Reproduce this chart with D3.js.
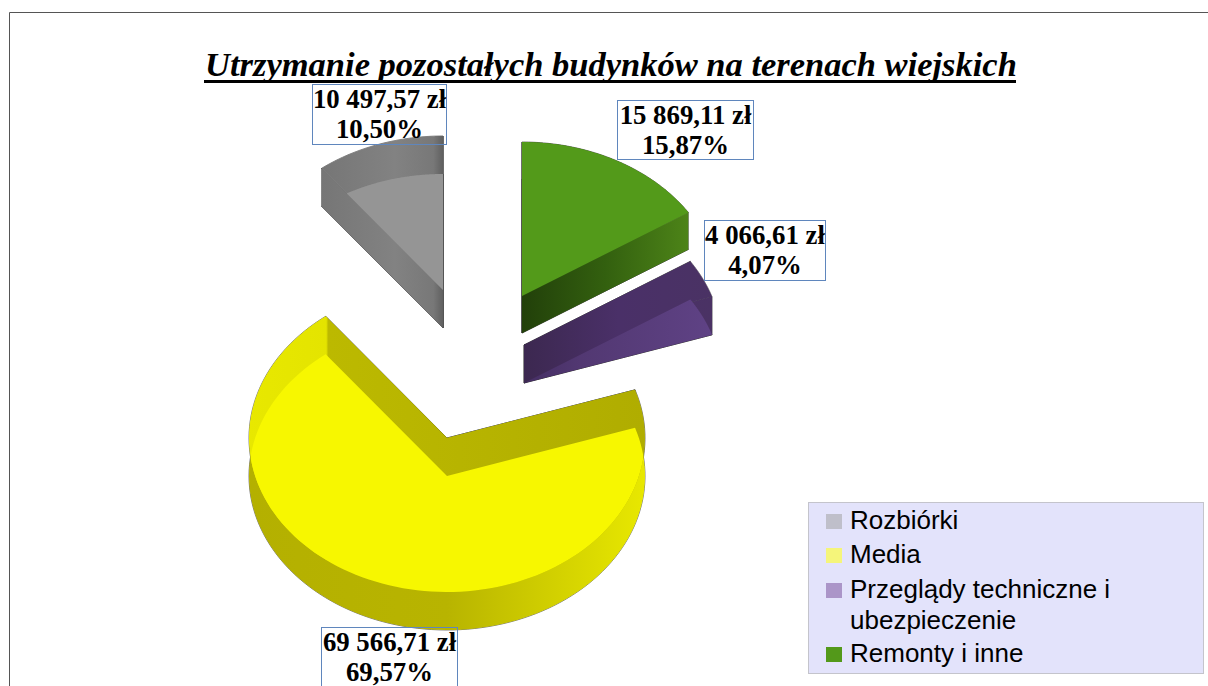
<!DOCTYPE html>
<html>
<head>
<meta charset="utf-8">
<script src="https://cdn.jsdelivr.net/npm/d3@7"></script>
<style>
  html, body { margin: 0; padding: 0; background: #fff; overflow: hidden; }
  svg { display: block; }
  .title { font-family: "Liberation Serif", serif; font-weight: bold; font-style: italic; font-size: 34.5px; }
  .lab { font-family: "Liberation Serif", serif; font-weight: bold; font-size: 26.8px; text-anchor: middle; }
  .leg { font-family: "Liberation Sans", sans-serif; font-size: 26px; fill: #000; }
</style>
</head>
<body>
<div id="chart"></div>
<script>
// data, in legend order
var categories = ['Rozbiórki', 'Media', 'Przeglądy techniczne i ubezpieczenie', 'Remonty i inne'];
var amounts = [10497.57, 69566.71, 4066.61, 15869.11];
var amountLabels = ['10 497,57 zł', '69 566,71 zł', '4 066,61 zł', '15 869,11 zł'];
var percentLabels = ['10,50%', '69,57%', '4,07%', '15,87%'];

var width = 1208, height = 686;
var rx = 198, ry = 154;

// exploded apex of each slice: upper and lower face of the extrusion
var apexX = [443, 447, 524, 522];
var apexTop = [290, 438, 345, 296];
var apexBottom = [328, 476, 383, 333];
// which face is drawn bright: both = overlap of the two faces
var faceMode = ['both', 'both', 'bottom', 'top'];

// gradients run left to right across the slice, from gradStart to gradEnd
var gradStart = [322, 249, 524, 522];
var gradEnd = [443, 645, 712, 689];
var brightStops = [
  [[0, '#959595'], [1, '#959595']],
  [[0, '#f7f700'], [1, '#f7f700']],
  [[0, '#452e63'], [0.3, '#523872'], [1, '#5f4285']],
  [[0, '#539a1a'], [1, '#539a1a']]
];
var lowerStops = [
  [[0, '#707070'], [1, '#808080']],
  [[0, '#b4b000'], [0.5, '#b8b400'], [1, '#e8e800']],
  [[0, '#3a2650'], [1, '#4b3266']],
  [[0, '#22400a'], [0.5, '#33600f'], [1, '#4d8418']]
];
var upperStops = [
  [[0, '#767676'], [0.6, '#828282'], [0.92, '#787878'], [1, '#606060']],
  [[0, '#e8e800'], [0.195, '#e4e400'], [0.2, '#bcb900'], [1, '#b0ad00']],
  [[0, '#3c2850'], [0.5, '#4a3068'], [1, '#4a3264']],
  [[0, '#22400a'], [0.5, '#33600f'], [1, '#4d8418']]
];
var legendColors = ['#bfbfca', '#f5f57a', '#ab95c8', '#53991a'];
var labelBox = [
  {x: 312, y: 84, w: 134, h: 60},
  {x: 321, y: 627, w: 136, h: 62},
  {x: 704, y: 220, w: 121, h: 60},
  {x: 617, y: 100, w: 136, h: 59}
];

var svg = d3.select('#chart').append('svg').attr('width', width).attr('height', height);
var defs = svg.append('defs');

function makeGrad(id, i, stops) {
  var grad = defs.append('linearGradient').attr('id', id)
    .attr('gradientUnits', 'userSpaceOnUse')
    .attr('x1', gradStart[i]).attr('x2', gradEnd[i]).attr('y1', 0).attr('y2', 0);
  stops.forEach(function(s) {
    grad.append('stop').attr('offset', s[0]).attr('stop-color', s[1]);
  });
  return 'url(#' + id + ')';
}

// frame, runs off the right and bottom edges
svg.append('path')
  .attr('d', 'M9.5,' + height + 'V12.5H' + width)
  .attr('fill', 'none').attr('stroke', '#555').attr('stroke-width', 1);

// slices clockwise from 12 o'clock, reversed legend order
var pie = d3.pie().sort(null).value(function(d) { return d.v; });
var rows = categories.map(function(c, i) { return {i: i, v: amounts[i]}; }).reverse();
var arcs = pie(rows);

function rim(ang, x, y) {
  return [x + rx * Math.sin(ang), y - ry * Math.cos(ang)];
}
// elliptical sector for a pie slice
function sectorPath(a, x, y) {
  var p = [[x, y]];
  var n = 120;
  for (var k = 0; k <= n; k++) {
    p.push(rim(a.startAngle + (a.endAngle - a.startAngle) * k / n, x, y));
  }
  return d3.line()(p) + 'Z';
}
function wallPath(ang, x, y0, y1) {
  return d3.line()([[x, y0], rim(ang, x, y0), rim(ang, x, y1), [x, y1]]) + 'Z';
}

arcs.forEach(function(a) {
  var i = a.data.i;
  var x = apexX[i], y0 = apexTop[i], y1 = apexBottom[i];
  var g = svg.append('g');
  var lower = makeGrad('lower' + i, i, lowerStops[i]);
  var upper = makeGrad('upper' + i, i, upperStops[i]);
  var bright = makeGrad('bright' + i, i, brightStops[i]);
  var walls = [a.startAngle, a.endAngle].map(function(ang) { return wallPath(ang, x, y0, y1); });

  // thin dark outline underneath everything
  [sectorPath(a, x, y0), sectorPath(a, x, y1)].concat(walls).forEach(function(d) {
    g.append('path').attr('d', d).attr('fill', 'none')
      .attr('stroke', '#222').attr('stroke-width', 1).attr('stroke-opacity', 0.6);
  });

  g.append('path').attr('d', sectorPath(a, x, y1)).attr('fill', lower);
  g.append('path').attr('d', sectorPath(a, x, y0)).attr('fill', upper);
  walls.forEach(function(d) {
    g.append('path').attr('d', d).attr('fill', upper);
  });

  // bright face
  var mode = faceMode[i];
  if (mode == 'both') {
    var clip = defs.append('clipPath').attr('id', 'clip' + i);
    clip.append('path').attr('d', sectorPath(a, x, y0));
    g.append('g').attr('clip-path', 'url(#clip' + i + ')')
      .append('path').attr('d', sectorPath(a, x, y1)).attr('fill', bright);
  } else {
    g.append('path').attr('d', sectorPath(a, x, mode == 'top' ? y0 : y1)).attr('fill', bright);
  }
});

// title
svg.append('text').attr('class', 'title')
  .attr('x', 611).attr('y', 76).attr('text-anchor', 'middle')
  .text('Utrzymanie pozostałych budynków na terenach wiejskich');
svg.append('rect').attr('x', 204).attr('y', 80).attr('width', 812).attr('height', 3).attr('fill', '#000');

// data labels
categories.forEach(function(c, i) {
  var b = labelBox[i];
  svg.append('rect').attr('x', b.x + 0.5).attr('y', b.y + 0.5).attr('width', b.w).attr('height', b.h)
    .attr('fill', 'none').attr('stroke', '#5f86bd').attr('stroke-width', 1);
  svg.append('text').attr('class', 'lab').attr('x', b.x + b.w / 2 + 0.5).attr('y', b.y + 24).text(amountLabels[i]);
  svg.append('text').attr('class', 'lab').attr('x', b.x + b.w / 2 + 0.5).attr('y', b.y + 54).text(percentLabels[i]);
});

// legend
var legend = svg.append('g');
legend.append('rect').attr('x', 808.5).attr('y', 502.5).attr('width', 395).attr('height', 171)
  .attr('fill', '#e3e3fb').attr('stroke', '#c4c4cc');
var legendLines = [['Rozbiórki'], ['Media'], ['Przeglądy techniczne i', 'ubezpieczenie'], ['Remonty i inne']];
var legendY = [529, 563, 598, 662];
legendLines.forEach(function(lines, i) {
  legend.append('rect').attr('x', 826).attr('y', legendY[i] - 15).attr('width', 16).attr('height', 15)
    .attr('fill', legendColors[i]);
  lines.forEach(function(t, k) {
    legend.append('text').attr('class', 'leg').attr('x', 850).attr('y', legendY[i] + k * 31).text(t);
  });
});
</script>
</body>
</html>
